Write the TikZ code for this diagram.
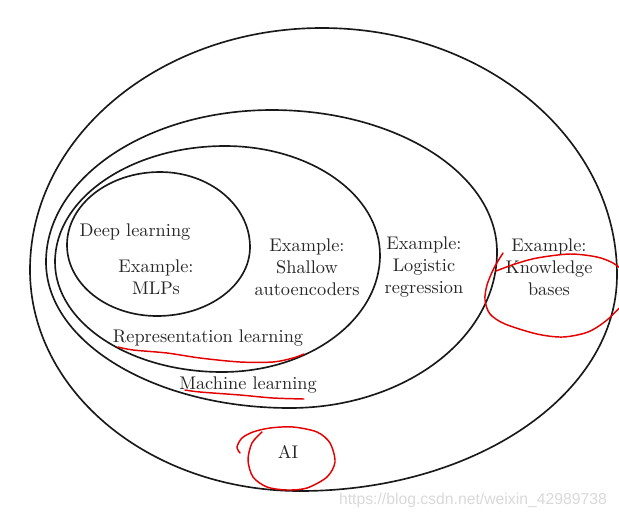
\documentclass[tikz,border=0pt]{standalone}
\usepackage{fontspec}
\newfontfamily\wmfont{Liberation Sans}
\begin{document}
\begin{tikzpicture}[x=0.0192cm,y=-0.0192cm,
  ring/.style={black!90,line width=0.9pt},
  redpen/.style={red!90!black,line width=0.8pt,line cap=round},
  lbl/.style={align=center,inner sep=0pt,text=black!85}]
 \clip (0,0) rectangle (619,519);
 % AI
 \draw[ring] (30,270) arc[start angle=180,end angle=270,x radius=292,y radius=242]
  arc[start angle=270,end angle=360,x radius=295,y radius=247]
  arc[start angle=0,end angle=90,x radius=317,y radius=216]
  arc[start angle=90,end angle=180,x radius=270,y radius=221] -- cycle;
 % machine learning
 \draw[ring] (46,262) arc[start angle=180,end angle=270,x radius=226,y radius=152]
  arc[start angle=270,end angle=360,x radius=225,y radius=142]
  arc[start angle=0,end angle=90,x radius=207,y radius=156]
  arc[start angle=90,end angle=180,x radius=244,y radius=146] -- cycle;
 % representation learning
 \draw[ring] (55,262) arc[start angle=180,end angle=270,x radius=170,y radius=116]
  arc[start angle=270,end angle=360,x radius=155,y radius=109]
  arc[start angle=0,end angle=90,x radius=158,y radius=117]
  arc[start angle=90,end angle=180,x radius=167,y radius=110] -- cycle;
 % deep learning
 \draw[ring] (67,245) arc[start angle=180,end angle=270,x radius=93,y radius=73]
  arc[start angle=270,end angle=360,x radius=90,y radius=75]
  arc[start angle=0,end angle=90,x radius=93,y radius=69]
  arc[start angle=90,end angle=180,x radius=90,y radius=71] -- cycle;

 \node[lbl] (dl) at (135,232) {Deep learning};
 \node[lbl] (mlp) at (156,277) {Example:\\MLPs};
 \node[lbl] (shallow) at (307,267) {Example:\\Shallow\\autoencoders};
 \node[lbl] (logistic) at (424,267) {Example:\\Logistic\\regression};
 \node[lbl] (kb) at (549,267) {Example:\\Knowledge\\bases};
 \node[lbl] (rep) at (208,338) {Representation learning};
 \node[lbl] (ml) at (248,385) {Machine learning};
 \node[lbl] (ai) at (288,452) {AI};

 % red pen
 \draw[redpen] plot[smooth] coordinates {(118,347) (133,350) (167,353) (200,358) (240,362) (273,362) (293,358) (304,354)};
 \draw[redpen] plot[smooth] coordinates {(185,390) (200,392) (240,395) (273,398) (304,399)};
 \draw[redpen] plot[smooth] coordinates {(262,432) (252,443) (248,460) (253,477) (267,487) (287,490) (307,488) (327,477) (335,462) (330,443) (317,432) (293,427) (270,428) (253,432) (242,438) (237,447) (240,453)};
 \draw[redpen] plot[smooth] coordinates {(503,253) (494,268) (487,285) (485,300) (490,314) (505,324) (537,334) (563,337) (588,332) (607,320) (625,302)};
 \draw[redpen] plot[smooth] coordinates {(496,271) (515,264) (537,258) (570,254) (597,257) (613,263) (625,272)};

 \node[inner sep=0pt,text=gray!30] (wm) at (473,500) {\wmfont\fontsize{8.6}{10}\selectfont https://blog.csdn.net/weixin\_42989738};
\end{tikzpicture}
\end{document}
